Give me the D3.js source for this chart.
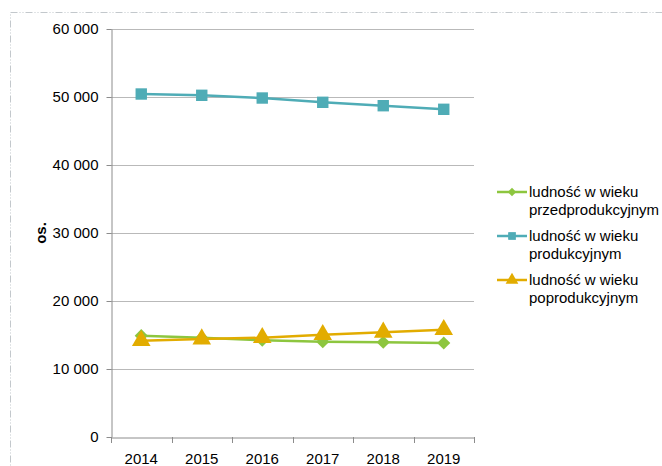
<!DOCTYPE html>
<html><head><meta charset="utf-8">
<script src="https://cdn.jsdelivr.net/npm/d3@7"></script>
<style>body{margin:0;background:#fff}svg{display:block;font-family:"Liberation Sans",Arial,sans-serif}</style>
</head><body><svg id="c" width="662" height="466"></svg>
<script>
const years = ["2014","2015","2016","2017","2018","2019"];
const preProd = [14900, 14600, 14220, 14020, 13930, 13830];
const prod = [50440, 50250, 49850, 49220, 48720, 48190];
const postProd = [14160, 14410, 14600, 15040, 15400, 15780];
const seriesNames = ["ludność w wieku\nprzedprodukcyjnym", "ludność w wieku\nprodukcyjnym", "ludność w wieku\npoprodukcyjnym"];
const yTicks = [0, 10000, 20000, 30000, 40000, 50000, 60000];
const yTitle = "os.";

const colors = ["#8dc63f", "#4facb6", "#e2ac00"];
const symbols = [d3.symbolDiamond2, d3.symbolSquare, d3.symbolTriangle];
const series = [preProd, prod, postProd];
const FONT = '"Liberation Sans",Arial,sans-serif';

const svg = d3.select("#c");
// outer dash-dot border
svg.append("rect").attr("x",10.5).attr("y",12.5).attr("width",700).attr("height",500)
  .attr("fill","none").attr("stroke","#c3c8cc").attr("stroke-width",1)
  .attr("stroke-dasharray","7,2,1,2,1,2");

const L = 111, R = 474, T = 29, B = 437;
const x = d3.scaleBand().domain(years).range([L, R]);
const y = d3.scaleLinear().domain([0, 60000]).range([B, T]);
const fmt = v => d3.format(",")(v).replace(/,/g, " ");

// gridlines
svg.append("g").selectAll("line").data(yTicks.filter(d=>d>0)).join("line")
  .attr("x1", L).attr("x2", R).attr("y1", d=>Math.round(y(d))+0.5).attr("y2", d=>Math.round(y(d))+0.5)
  .attr("stroke", "#b9b9b9");

const yAxis = svg.append("g").attr("transform", `translate(${L+0.5},0)`)
  .call(d3.axisLeft(y).tickValues(yTicks).tickFormat(fmt).tickSize(5).tickSizeOuter(0));
yAxis.select(".domain").attr("stroke", "#8c8c8c");
yAxis.selectAll(".tick line").attr("stroke", "#8c8c8c");
yAxis.selectAll("text").attr("font-size", 15).attr("fill", "#000").attr("dx", -5)
  .attr("font-family", FONT);

const xAxis = svg.append("g").attr("transform", `translate(0,${B+0.5})`)
  .call(d3.axisBottom(x).tickSize(0).tickSizeOuter(0));
xAxis.select(".domain").attr("stroke", "#8c8c8c");
xAxis.selectAll("text").attr("font-size", 15).attr("fill", "#000").attr("y", 26).attr("dy", 0)
  .attr("font-family", FONT);
// category boundary ticks
const bounds = years.map(d => x(d)).concat([x(years[years.length-1]) + x.bandwidth()]);
svg.append("g").selectAll("line").data(bounds).join("line")
  .attr("x1", d=>Math.round(d)+0.5).attr("x2", d=>Math.round(d)+0.5)
  .attr("y1", B).attr("y2", B+6).attr("stroke", "#8c8c8c");

svg.append("text").attr("transform", `translate(46,${(T+B)/2}) rotate(-90)`)
  .attr("text-anchor", "middle").attr("font-size", 15).attr("font-weight", "bold").text(yTitle);

const cx = d => x(d) + x.bandwidth()/2;
const line = d3.line().x((d,i)=>cx(years[i])).y(d=>y(d));
const sizes = [110, 130, 150];
series.forEach((s, k) => {
  svg.append("path").datum(s).attr("d", line).attr("fill", "none")
    .attr("stroke", colors[k]).attr("stroke-width", 2.5);
  svg.append("g").selectAll("path").data(s).join("path")
    .attr("transform", (d,i)=>`translate(${cx(years[i])},${y(d)})`)
    .attr("d", d3.symbol().type(symbols[k]).size(sizes[k]))
    .attr("fill", colors[k]);
});

// legend
const legY = [192, 236, 280];
const legSizes = [45, 60, 70];
seriesNames.forEach((name, k) => {
  const g = svg.append("g").attr("transform", `translate(497,${legY[k]})`);
  g.append("line").attr("x1", 0).attr("x2", 30).attr("y1", 0).attr("y2", 0)
    .attr("stroke", colors[k]).attr("stroke-width", 2.5);
  g.append("path").attr("transform", "translate(15,0)")
    .attr("d", d3.symbol().type(symbols[k]).size(legSizes[k])).attr("fill", colors[k]);
  const t = g.append("text").attr("x", 32).attr("y", 0).attr("font-size", 15).attr("fill", "#000");
  name.split("\n").forEach((ln, i) => {
    t.append("tspan").attr("x", 32).attr("dy", i === 0 ? "0.33em" : 18).text(ln);
  });
});
</script></body></html>
